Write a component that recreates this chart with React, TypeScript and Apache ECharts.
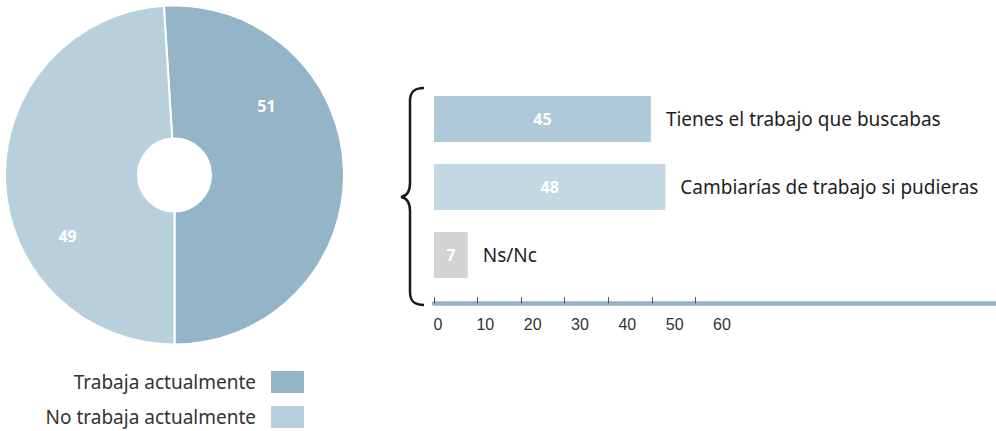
import React, { useEffect, useRef } from "react";
import * as echarts from "echarts";

// ---- data ----
const pieNames = ["Trabaja actualmente", "No trabaja actualmente"];
const pieValues = [51, 49];
const pieColors = ["#94b4c7", "#b8d0dc"];
const pieLabelShift = [
  [-14, -66],
  [-1, 58],
];

const barCategories = ["Tienes el trabajo que buscabas", "Cambiarías de trabajo si pudieras", "Ns/Nc"];
const barValues = [45, 48, 7];
const barColors = ["#aecad8", "#c2d8e2", "#d4d4d4"];

const tickValues = [0, 10, 20, 30, 40, 50, 60];

const BRACE_D =
  "M23,1 C14,1 9,4 9,14 L9,96 C9,105 6,109 0,110 C6,111 9,115 9,124 L9,205 C9,215 14,218 23,218";
echarts.graphic.registerShape("brace", echarts.graphic.extendPath(BRACE_D, {}) as any);

const FONT = "'Noto Sans', sans-serif";

export default function App() {
  const ref = useRef<HTMLDivElement>(null);

  useEffect(() => {
    if (!ref.current) return;
    const chart = echarts.init(ref.current, null, { renderer: "svg" });

    const legendBase = {
      orient: "horizontal",
      align: "right",
      right: 690,
      padding: 0,
      icon: "rect",
      itemWidth: 35,
      itemHeight: 24,
      selectedMode: false,
      textStyle: { fontSize: 19, color: "#333", fontFamily: FONT, padding: [0, 9, 0, 0] },
    };

    const option: any = {
      animation: false,
      textStyle: { fontFamily: FONT },
      grid: [
        { left: 434, width: 562, top: 85, height: 204 },
        { left: 438, width: 558, top: 85, height: 204 },
      ],
      xAxis: [
        { gridIndex: 0, type: "value", min: 0, max: 116.6, show: false },
        {
          gridIndex: 0,
          type: "value",
          min: 0,
          max: 129,
          position: "bottom",
          offset: 14.5,
          axisLine: { show: true, lineStyle: { color: "#93b3c6", width: 4.5 } },
          axisTick: {
            show: true,
            inside: true,
            length: 6.5,
            lineStyle: { color: "#555", width: 1 },
            customValues: tickValues,
          },
          axisLabel: { show: false },
          splitLine: { show: false },
        },
        {
          gridIndex: 1,
          type: "value",
          min: 0,
          max: 117.9,
          position: "bottom",
          offset: 14.5,
          axisLine: { show: false },
          axisTick: { show: false },
          splitLine: { show: false },
          axisLabel: {
            show: true,
            margin: 13,
            customValues: tickValues,
            color: "#333",
            fontSize: 16,
            fontFamily: "'Liberation Sans Narrow', sans-serif",
          },
        },
      ],
      yAxis: [
        { gridIndex: 0, type: "category", data: barCategories, inverse: true, show: false },
        { gridIndex: 1, type: "category", data: barCategories, inverse: true, show: false },
      ],
      legend: [
        { ...legendBase, data: [pieNames[0]], top: 369 },
        { ...legendBase, data: [pieNames[1]], top: 404 },
      ],
      graphic: [
        {
          type: "brace",
          x: 401,
          y: 87,
          style: { stroke: "#1a1a1a", lineWidth: 2.5, fill: null },
        },
      ],
      series: [
        {
          type: "pie",
          center: [174.5, 175],
          radius: [36.5, 169.5],
          startAngle: 93.6,
          clockwise: true,
          itemStyle: { borderColor: "#fff", borderWidth: 2 },
          label: {
            show: true,
            position: "inside",
            formatter: "{c}",
            color: "#fff",
            fontWeight: "bold",
            fontSize: 16,
            fontFamily: FONT,
          },
          labelLine: { show: false },
          labelLayout: (p: any) => ({ dx: pieLabelShift[p.dataIndex][0], dy: pieLabelShift[p.dataIndex][1] }),
          emphasis: { disabled: true },
          data: pieNames.map((n, i) => ({ name: n, value: pieValues[i], itemStyle: { color: pieColors[i] } })),
        },
        {
          type: "bar",
          xAxisIndex: 0,
          yAxisIndex: 0,
          barWidth: 46,
          barGap: "-100%",
          emphasis: { disabled: true },
          label: {
            show: true,
            position: "inside",
            formatter: "{c}",
            color: "#fff",
            fontWeight: "bold",
            fontSize: 16,
            fontFamily: FONT,
          },
          data: barValues.map((v, i) => ({ value: v, itemStyle: { color: barColors[i] } })),
        },
        {
          type: "bar",
          xAxisIndex: 0,
          yAxisIndex: 0,
          barWidth: 46,
          barGap: "-100%",
          silent: true,
          itemStyle: { color: "rgba(0,0,0,0)" },
          label: {
            show: true,
            position: "right",
            distance: 15,
            formatter: "{b}",
            color: "#1e1e1e",
            fontSize: 19,
            fontFamily: FONT,
          },
          data: barValues,
        },
      ],
    };

    chart.setOption(option);
    return () => chart.dispose();
  }, []);

  return (
    <div
      ref={ref}
      style={{ position: "fixed", left: 0, top: 0, width: 996, height: 431, background: "#fff" }}
    />
  );
}
